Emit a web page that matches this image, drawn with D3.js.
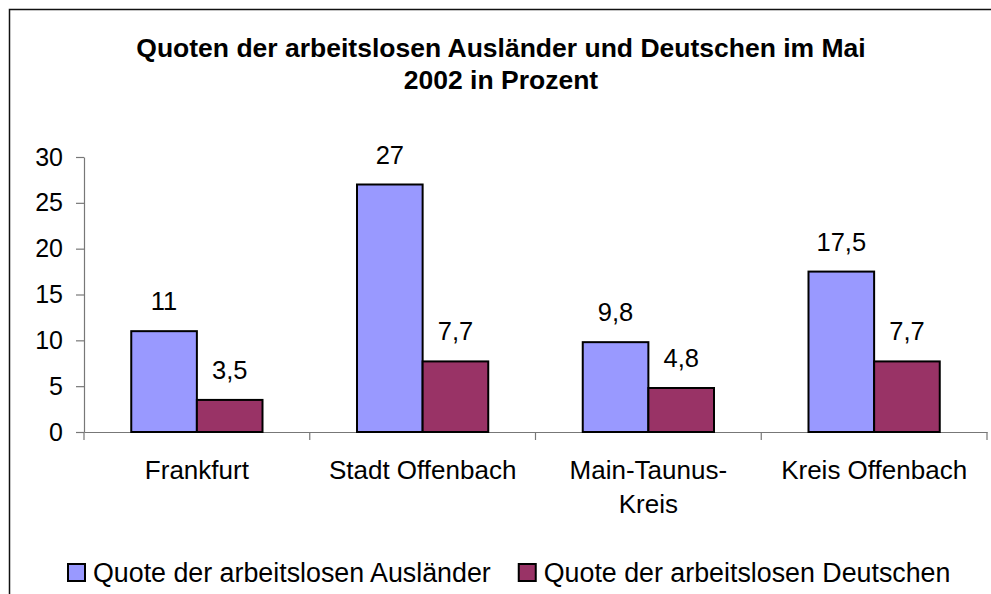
<html>
<head>
<meta charset="utf-8">
<title>Quoten arbeitslose</title>
<script src="https://d3js.org/d3.v7.min.js"></script>
<style>
  body { margin: 0; background: #fff; }
  text { font-family: "Liberation Sans", Arial, sans-serif; fill: #000; }
</style>
</head>
<body>
<script>
// data
var categories = [["Frankfurt"], ["Stadt Offenbach"], ["Main-Taunus-", "Kreis"], ["Kreis Offenbach"]];
var seriesNames = ["Quote der arbeitslosen Ausländer", "Quote der arbeitslosen Deutschen"];
var auslaender = [11, 27, 9.8, 17.5];
var deutsche = [3.5, 7.7, 4.8, 7.7];
var yTicks = [0, 5, 10, 15, 20, 25, 30];
var titleLines = ["Quoten der arbeitslosen Ausländer und Deutschen im Mai", "2002 in Prozent"];

var colors = ["#9999ff", "#993366"];
var width = 991, height = 594;

var svg = d3.select("body").append("svg")
    .attr("width", width)
    .attr("height", height);

// frame (only top + left visible in the picture)
svg.append("path")
    .attr("d", "M9.5," + height + "V9.5H" + width)
    .attr("fill", "none")
    .attr("stroke", "#111")
    .attr("stroke-width", 1.5);

// title
svg.append("g").selectAll("text")
    .data(titleLines)
    .enter().append("text")
    .attr("x", 501)
    .attr("y", (d, i) => 57 + i * 32)
    .attr("text-anchor", "middle")
    .attr("font-size", 26.5)
    .attr("font-weight", "bold")
    .text(d => d);

var keys = categories.map(c => c.join(""));
var x0 = d3.scaleBand().domain(keys).range([84, 987]).padding(0);
var x1 = d3.scaleBand().domain([0, 1]).range([0, x0.bandwidth()]).paddingInner(0).paddingOuter(0.72);
var y = d3.scaleLinear().domain([0, 30]).range([432, 157]);

var fmt = v => String(v).replace(".", ",");

// y axis
var yAxis = svg.append("g")
    .attr("transform", "translate(84,0)")
    .call(d3.axisLeft(y).tickValues(yTicks).tickSize(8).tickSizeOuter(0).tickPadding(13));
yAxis.selectAll("text").attr("font-size", 25).attr("font-family", "Liberation Sans, Arial, sans-serif");
yAxis.selectAll("line, path").attr("stroke", "#777").attr("stroke-width", 1.2);

// x axis line + boundary ticks
var xAxis = svg.append("g")
    .attr("transform", "translate(0,432)")
    .call(d3.axisBottom(x0).tickSize(0).tickFormat(""));
xAxis.select("path").attr("stroke", "#777").attr("stroke-width", 1.2);
xAxis.selectAll(".tick").remove();
var bounds = [x0.range()[0]].concat(keys.map(k => x0(k) + x0.bandwidth()));
xAxis.selectAll("line.bt")
    .data(bounds)
    .enter().append("line")
    .attr("class", "bt")
    .attr("x1", d => d).attr("x2", d => d)
    .attr("y1", 0).attr("y2", 8)
    .attr("stroke", "#777").attr("stroke-width", 1.2);

// bars
var series = [auslaender, deutsche];
var bars = svg.append("g");
series.forEach(function (vals, s) {
    var g = bars.append("g");
    g.selectAll("rect")
        .data(vals)
        .enter().append("rect")
        .attr("x", (d, i) => x0(keys[i]) + x1(s))
        .attr("y", d => y(d))
        .attr("width", x1.bandwidth())
        .attr("height", d => y(0) - y(d))
        .attr("fill", colors[s])
        .attr("stroke", "#000")
        .attr("stroke-width", 2);
    g.selectAll("text")
        .data(vals)
        .enter().append("text")
        .attr("x", (d, i) => x0(keys[i]) + x1(s) + x1.bandwidth() / 2)
        .attr("y", d => y(d) - 21)
        .attr("text-anchor", "middle")
        .attr("font-size", 25.5)
        .text(fmt);
});

// category labels
var cat = svg.append("g").selectAll("text")
    .data(categories)
    .enter().append("text")
    .attr("x", (d, i) => x0(keys[i]) + x0.bandwidth() / 2)
    .attr("y", 479)
    .attr("text-anchor", "middle")
    .attr("font-size", 26);
cat.selectAll("tspan")
    .data(d => d)
    .enter().append("tspan")
    .attr("x", function () { return d3.select(this.parentNode).attr("x"); })
    .attr("dy", (d, i) => i === 0 ? 0 : 34)
    .text(d => d);

// legend
var legend = svg.append("g");
var lx = 68;
seriesNames.forEach(function (name, s) {
    legend.append("rect")
        .attr("x", lx).attr("y", 564)
        .attr("width", 17).attr("height", 17)
        .attr("fill", colors[s])
        .attr("stroke", "#000")
        .attr("stroke-width", 2);
    var t = legend.append("text")
        .attr("x", lx + 25)
        .attr("y", 582)
        .attr("font-size", 26.8)
        .text(name);
    lx = lx + 25 + t.node().getComputedTextLength() + 28;
});
</script>
</body>
</html>
